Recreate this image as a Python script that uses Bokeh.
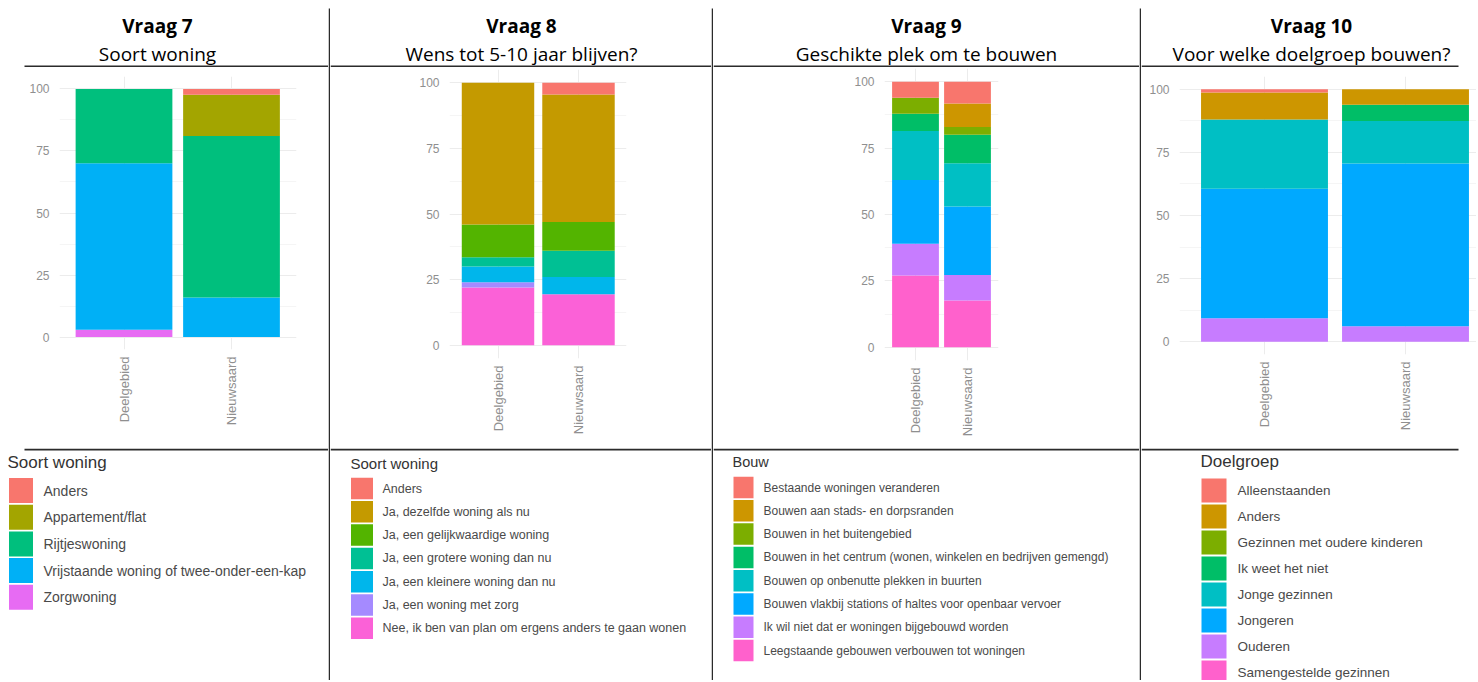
import math
from bokeh.plotting import figure
from bokeh.layouts import column, row
from bokeh.models import Range1d, FixedTicker, ColumnDataSource
from bokeh.core.properties import value
from bokeh.embed import file_html
from bokeh.resources import INLINE

# ---------------- data ----------------
regions = ["Deelgebied", "Nieuwsaard"]

titles = ["Vraag 7", "Vraag 8", "Vraag 9", "Vraag 10"]
subtitles = ["Soort woning", "Wens tot 5-10 jaar blijven?",
             "Geschikte plek om te bouwen", "Voor welke doelgroep bouwen?"]
legend_titles = ["Soort woning", "Soort woning", "Bouw", "Doelgroep"]

q7_levels = ["Anders", "Appartement/flat", "Rijtjeswoning",
             "Vrijstaande woning of twee-onder-een-kap", "Zorgwoning"]
q7_deelgebied = [0, 0, 30, 67, 3]
q7_nieuwsaard = [2.4, 16.6, 65, 16, 0]

q8_levels = ["Anders", "Ja, dezelfde woning als nu", "Ja, een gelijkwaardige woning",
             "Ja, een grotere woning dan nu", "Ja, een kleinere woning dan nu",
             "Ja, een woning met zorg",
             "Nee, ik ben van plan om ergens anders te gaan wonen"]
q8_deelgebied = [0, 54, 12.5, 3.5, 6, 2, 22]
q8_nieuwsaard = [4.5, 48.5, 11, 10, 6.5, 0, 19.5]

q9_levels = ["Bestaande woningen veranderen", "Bouwen aan stads- en dorpsranden",
             "Bouwen in het buitengebied",
             "Bouwen in het centrum (wonen, winkelen en bedrijven gemengd)",
             "Bouwen op onbenutte plekken in buurten",
             "Bouwen vlakbij stations of haltes voor openbaar vervoer",
             "Ik wil niet dat er woningen bijgebouwd worden",
             "Leegstaande gebouwen verbouwen tot woningen"]
q9_deelgebied = [6, 0, 6, 6.5, 18.5, 24, 12, 27]
q9_nieuwsaard = [8.2, 8.8, 3, 10.7, 16.3, 25.8, 9.6, 17.6]

q10_levels = ["Alleenstaanden", "Anders", "Gezinnen met oudere kinderen",
              "Ik weet het niet", "Jonge gezinnen", "Jongeren", "Ouderen",
              "Samengestelde gezinnen"]
q10_deelgebied = [1.3, 10.7, 0, 0, 27.4, 51.3, 9.3, 0]
q10_nieuwsaard = [0, 6.2, 0, 6.4, 16.8, 64.4, 6.2, 0]

y_ticks = [0, 25, 50, 75, 100]
y_minor = [12.5, 37.5, 62.5, 87.5]

pal5 = ["#F8766D", "#A3A500", "#00BF7D", "#00B0F6", "#E76BF3"]
pal7 = ["#F8766D", "#C49A00", "#53B400", "#00C094", "#00B6EB", "#A58AFF", "#FB61D7"]
pal8 = ["#F8766D", "#CD9600", "#7CAE00", "#00BE67", "#00BFC4", "#00A9FF", "#C77CFF", "#FF61CC"]

# ---------------- layout constants (page pixels) ----------------
COL_X0 = [0, 330, 713, 1141]
COL_W = [328, 381, 426, 335]
TITLE_H, CHART_H, LEG_H = 67, 381, 232
CHART_TOP = TITLE_H
LINE_COL = "#2b2b2b"
TXT_GRAY = "#8f8f8f"
LEG_TXT = "#4a4a4a"


def blank(w, h):
    p = figure(width=w, height=h, x_range=Range1d(0, w), y_range=Range1d(h, 0),
               output_backend="svg", toolbar_location=None, min_border=0,
               x_axis_location=None, y_axis_location=None)
    p.frame_align = False
    p.grid.visible = False
    p.outline_line_color = None
    p.background_fill_color = "white"
    p.border_fill_color = "white"
    return p


def title_fig(i):
    w = COL_W[i]
    p = blank(w, TITLE_H)
    centers = [157, 191, 213, 170]
    p.text(x=[centers[i]], y=[25], text=[titles[i]], text_align="center",
           text_baseline="middle", text_font=value("Open Sans"),
           text_font_style="bold", text_font_size="19px", text_color="black")
    p.text(x=[centers[i]], y=[53], text=[subtitles[i]], text_align="center",
           text_baseline="middle", text_font=value("Open Sans"),
           text_font_size="19px", text_color="black")
    x0 = 24 if i == 0 else 0
    x1 = 317 if i == 3 else w
    p.line(x=[x0, x1], y=[66, 66], line_color=LINE_COL, line_width=2)
    return p


def chart_fig(i, levels, colors, va, vb, y0_img, y100_img, c1_img, c2_img):
    x0, w = COL_X0[i], COL_W[i]
    unit = c2_img - c1_img
    pxv = (y0_img - y100_img) / 100.0
    top_img = y100_img - 5 * pxv
    bot_img = y0_img + 5 * pxv
    left_img = c1_img - 0.6 * unit
    right_img = min(c2_img + 0.6 * unit, x0 + w)
    b_left = int(round(left_img - x0))
    b_right = int(round(x0 + w - right_img))
    b_top = int(round(top_img - CHART_TOP))
    b_bot = int(round(CHART_TOP + CHART_H - bot_img))
    x_start = 1 - (c1_img - (x0 + b_left)) / unit
    x_end = 2 + ((x0 + w - b_right) - c2_img) / unit
    p = figure(width=w, height=CHART_H, x_range=Range1d(x_start, x_end),
               y_range=Range1d(-5, 105), output_backend="svg", toolbar_location=None,
               min_border_left=b_left, min_border_right=b_right,
               min_border_top=b_top, min_border_bottom=b_bot)
    p.frame_align = False
    p.outline_line_color = None
    p.background_fill_color = "white"
    p.border_fill_color = "white"
    data = {"x": [1, 2]}
    for k, lev in enumerate(levels):
        data[lev] = [va[k], vb[k]]
    src = ColumnDataSource(data)
    stack = list(reversed(levels))
    cols = list(reversed(colors))
    p.vbar_stack(stackers=stack, x="x", width=0.9, fill_color=cols,
                 line_color=None, source=src)
    p.yaxis.ticker = FixedTicker(ticks=y_ticks, minor_ticks=y_minor)
    p.xaxis.ticker = FixedTicker(ticks=[1, 2])
    p.xaxis.major_label_overrides = {1: regions[0], 2: regions[1]}
    p.xaxis.major_label_orientation = math.pi / 2
    for ax in (p.xaxis[0], p.yaxis[0]):
        ax.axis_line_color = None
        ax.major_tick_line_color = None
        ax.minor_tick_line_color = None
        ax.major_tick_in = 0
        ax.major_tick_out = 0
        ax.major_label_text_color = TXT_GRAY
        ax.major_label_text_font = "Liberation Sans"
    p.yaxis.major_label_text_font_size = "12px"
    p.xaxis.major_label_text_font_size = "13px"
    p.yaxis.major_label_standoff = 6
    p.xaxis.major_label_standoff = 7
    p.ygrid.grid_line_color = "#ececec"
    p.ygrid.minor_grid_line_color = "#f5f5f5"
    p.xgrid.grid_line_color = "#ececec"
    return p


def legend_fig(i, levels, colors, tx, ty, scx, sw, sh, cy0, step, txx, tsize, isize):
    w = COL_W[i]
    p = blank(w, LEG_H)
    x0 = 24 if i == 0 else 0
    x1 = 317 if i == 3 else w
    p.line(x=[x0, x1], y=[1, 1], line_color=LINE_COL, line_width=2)
    p.text(x=[tx], y=[ty], text=[legend_titles[i]], text_align="left",
           text_baseline="middle", text_font=value("Liberation Sans"),
           text_font_size=tsize, text_color="#333333")
    ys = [cy0 + k * step for k in range(len(levels))]
    p.rect(x=[scx] * len(levels), y=ys, width=sw, height=sh,
           fill_color=colors, line_color=None)
    p.text(x=[txx] * len(levels), y=ys, text=levels, text_align="left",
           text_baseline="middle", text_font=value("Liberation Sans"),
           text_font_size=isize, text_color=LEG_TXT)
    return p


def sep():
    h = TITLE_H + CHART_H + LEG_H
    p = blank(2, h)
    p.line(x=[1, 1], y=[8, h], line_color=LINE_COL, line_width=2)
    return p


charts = [
    chart_fig(0, q7_levels, pal5, q7_deelgebied, q7_nieuwsaard, 337, 88, 123.5, 231),
    chart_fig(1, q8_levels, pal7, q8_deelgebied, q8_nieuwsaard, 345, 81.7, 497.5, 578),
    chart_fig(2, q9_levels, pal8, q9_deelgebied, q9_nieuwsaard, 347, 81.7, 915, 967),
    chart_fig(3, q10_levels, pal8, q10_deelgebied, q10_nieuwsaard, 341, 89, 1264, 1405),
]

legends = [
    legend_fig(0, q7_levels, pal5, 7, 14, 20.5, 24, 25, 42, 26.7, 43, "17px", "14px"),
    legend_fig(1, q8_levels, pal7, 20, 15, 31.5, 22, 21.5, 40, 23.3, 52, "15px", "12.5px"),
    legend_fig(2, q9_levels, pal8, 19, 13, 30, 20, 21.5, 39, 23.3, 50, "14.5px", "12px"),
    legend_fig(3, q10_levels, pal8, 59, 13, 72.5, 25, 24, 42, 26, 96, "17px", "13.5px"),
]

cols = []
for i in range(4):
    cols.append(column(title_fig(i), charts[i], legends[i]))
    if i < 3:
        cols.append(sep())

layout = row(*cols)

open("out.html", "w").write(file_html(layout, INLINE))
